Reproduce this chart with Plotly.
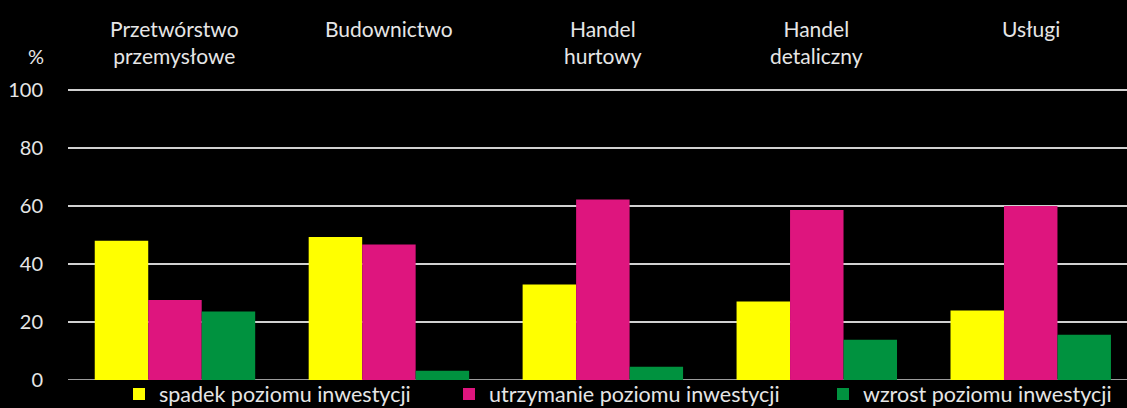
import plotly.graph_objects as go

# Kategorie (sekcje gospodarki) i udziały odpowiedzi w %
kategorie = ["Przetwórstwo<br>przemysłowe", "Budownictwo", "Handel<br>hurtowy",
             "Handel<br>detaliczny", "Usługi"]
spadek = [48.0, 49.3, 32.9, 27.1, 24.0]
utrzymanie = [27.6, 46.7, 62.2, 58.6, 60.0]
wzrost = [23.6, 3.2, 4.6, 13.9, 15.6]

serie = [
    ("spadek poziomu inwestycji", spadek, "#FFFF00"),
    ("utrzymanie poziomu inwestycji", utrzymanie, "#DE157E"),
    ("wzrost poziomu inwestycji", wzrost, "#00923F"),
]

FONT = "Lato"
TXT = "#e6e6e6"

W, HT = 1127, 408
TOP, BOTTOM, LEFT = 87, 28, 68
H = HT - TOP - BOTTOM
PW = W - LEFT
Y0 = HT - BOTTOM  # piksel osi y=0

# gdzie zaczyna sie kazdy wpis legendy (px)
legenda_x = [119, 449, 823]

fig = go.Figure()
for j, (nazwa, wartosci, kolor) in enumerate(serie):
    fig.add_trace(go.Bar(x=list(range(len(kategorie))), y=wartosci, name=nazwa,
                         legend="legend" if j == 0 else f"legend{j + 1}",
                         marker=dict(color=kolor, line=dict(width=0))))

# podpisy kategorii nad wykresem
for i, k in enumerate(kategorie):
    fig.add_annotation(x=i, y=(Y0 - 14) / H, xref="x", yref="paper", text=k,
                       showarrow=False, yanchor="top", xanchor="center",
                       font=dict(family=FONT, size=21, color=TXT))

fig.add_annotation(x=(36 - LEFT) / PW, y=(Y0 - 56) / H, xref="paper",
                   yref="paper", text="%", showarrow=False,
                   xanchor="center", yanchor="middle",
                   font=dict(family=FONT, size=20, color=TXT))

leg = dict(orientation="h", xanchor="left", y=(Y0 - 394) / H, yanchor="middle",
           font=dict(family=FONT, size=21.5, color=TXT),
           bgcolor="rgba(0,0,0,0)", itemwidth=30)

fig.update_layout(
    width=W, height=HT,
    paper_bgcolor="black", plot_bgcolor="black",
    margin=dict(l=LEFT, r=0, t=TOP, b=BOTTOM, autoexpand=False),
    barmode="group", bargap=0.25, bargroupgap=0,
    font=dict(family=FONT, size=20, color=TXT),
    xaxis=dict(range=[-0.5, 4.45], showticklabels=False, showgrid=False,
               zeroline=False, fixedrange=True, automargin=False),
    yaxis=dict(range=[0, 101], tickvals=[0, 20, 40, 60, 80, 100],
               showgrid=True, gridcolor="#d0d0d0",
               gridwidth=1.5, zeroline=False, showline=False, automargin=False,
               ticks="outside", ticklen=20, tickcolor="black",
               tickfont=dict(size=20, color=TXT)),
    legend=dict(leg, x=(legenda_x[0] - LEFT) / PW),
    legend2=dict(leg, x=(legenda_x[1] - LEFT) / PW),
    legend3=dict(leg, x=(legenda_x[2] - LEFT) / PW),
    showlegend=True,
)
# linia zerowa na dole (jak siatka)
fig.add_shape(type="line", xref="paper", yref="y", x0=0, x1=1, y0=0, y1=0,
              line=dict(color="#d0d0d0", width=1.5), layer="below")

fig.write_html("out.html", config={"displayModeBar": False}, post_script=(
    "document.body.style.margin='0';"
    "document.body.style.background='black';"
    "document.body.style.overflow='hidden';"))
